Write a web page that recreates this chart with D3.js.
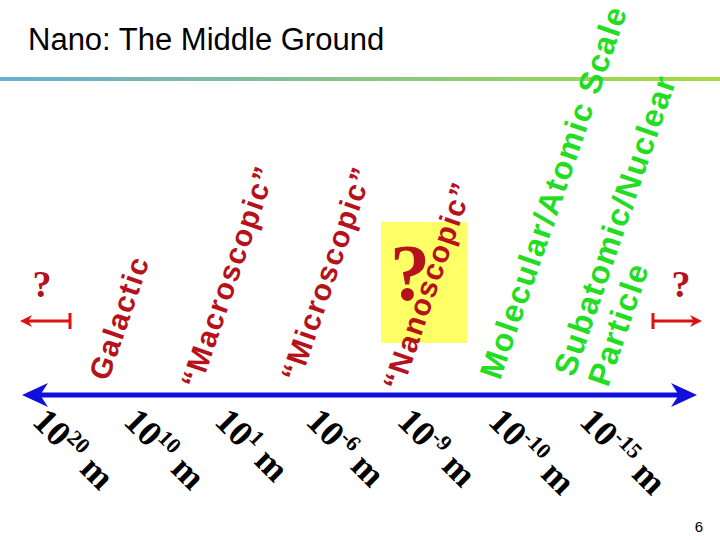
<!DOCTYPE html><html><head><meta charset="utf-8"><script src="https://d3js.org/d3.v7.min.js"></script>
<style>body{margin:0;background:#fff}</style></head><body><svg width="720" height="540"></svg>
<script>
const tickBase=["10","10","10","10","10","10","10"];
const tickExp=["20","10","1","-6","-9","-10","-15"];
const tickX=[0,1,2,3,4,5,6];
const categories=["Galactic","“Macroscopic”","“Microscopic”","“Nanoscopic”","Molecular/Atomic Scale","Subatomic/Nuclear","Particle"];
const catColors=["#b5121b","#b5121b","#b5121b","#b5121b","#22dd22","#22dd22","#22dd22"];
const catX=[108,200,300,402,500,574,608];
const catY=[382,390,383,392,381,378,388];
const svg=d3.select("svg");
const defs=svg.append("defs");
const g=defs.append("linearGradient").attr("id","hl");
g.append("stop").attr("offset","0").attr("stop-color","#6aaed3");
g.append("stop").attr("offset","1").attr("stop-color","#a6dc3a");
svg.append("rect").attr("x",0).attr("y",77).attr("width",720).attr("height",4).attr("fill","url(#hl)");
svg.append("text").attr("x",28).attr("y",50).attr("font-family","Liberation Sans, Arial").attr("font-size",31).text("Nano: The Middle Ground");
svg.append("text").attr("x",703).attr("y",532).attr("text-anchor","end").attr("font-family","Liberation Sans").attr("font-size",15).text("6");
svg.append("rect").attr("x",381).attr("y",222).attr("width",86).attr("height",121).attr("fill","#ffff66");
svg.append("text").attr("x",410).attr("y",300).attr("text-anchor","middle").attr("font-family","Liberation Serif").attr("font-weight","bold").attr("font-size",80).attr("fill","#b5121b").text("?");
function arrow(x1,x2,y,c,w,hw,hl){
 const d=Math.sign(x2-x1);
 svg.append("line").attr("x1",x1).attr("x2",x2-d*hl*0.6).attr("y1",y).attr("y2",y).attr("stroke",c).attr("stroke-width",w);
 svg.append("path").attr("d",`M${x2},${y}L${x2-d*hl},${y-hw}L${x2-d*hl*0.7},${y}L${x2-d*hl},${y+hw}Z`).attr("fill",c);
}
const ax=d3.scaleLinear().domain([0,6]).range([22,697]);
arrow(360,ax(0),395,"#1010dd",5,12,26);
arrow(360,ax(6),395,"#1010dd",5,12,26);
arrow(70,20,321,"#dd1111",3,6,12);
svg.append("line").attr("x1",70).attr("x2",70).attr("y1",313).attr("y2",329).attr("stroke","#dd1111").attr("stroke-width",3);
arrow(653,702,321,"#dd1111",3,6,12);
svg.append("line").attr("x1",653).attr("x2",653).attr("y1",313).attr("y2",329).attr("stroke","#dd1111").attr("stroke-width",3);
svg.append("text").attr("x",42).attr("y",297).attr("text-anchor","middle").attr("font-family","Liberation Serif").attr("font-weight","bold").attr("font-size",38).attr("fill","#b5121b").text("?");
svg.append("text").attr("x",681).attr("y",297).attr("text-anchor","middle").attr("font-family","Liberation Serif").attr("font-weight","bold").attr("font-size",38).attr("fill","#b5121b").text("?");
const lx=d3.scaleLinear().domain([0,6]).range([31,578]);
tickX.forEach((i)=>{
 const t=svg.append("text").attr("transform",`translate(${lx(i)},423) rotate(45)`).attr("font-family","Liberation Serif").attr("font-weight","bold").attr("font-size",36);
 t.append("tspan").text(tickBase[i]);
 t.append("tspan").attr("font-size",22).attr("dy",-13).text(tickExp[i]);
 t.append("tspan").attr("dy",13).text(" m");
});
categories.forEach((c,i)=>{
 svg.append("text").attr("transform",`translate(${catX[i]},${catY[i]}) rotate(-71)`).attr("font-family","Liberation Sans").attr("font-weight","bold").attr("font-size",i>=4?32:30).attr("letter-spacing",i>=4?1.5:1.5).attr("fill",catColors[i]).text(c);
});
</script></body></html>
